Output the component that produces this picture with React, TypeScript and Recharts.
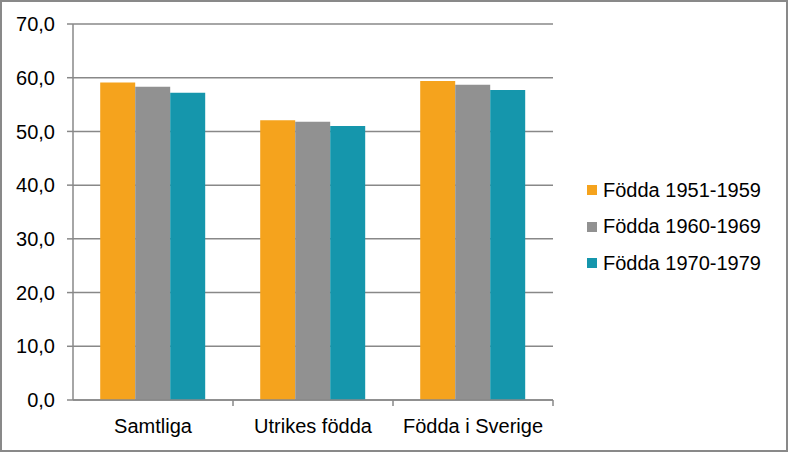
import { BarChart, Bar, XAxis, YAxis, CartesianGrid } from "recharts"

const categories = ["Samtliga", "Utrikes födda", "Födda i Sverige"]
const born1951 = [59.1, 52.1, 59.4]
const born1960 = [58.3, 51.8, 58.7]
const born1970 = [57.2, 51.0, 57.7]
const yTicks = [0, 10, 20, 30, 40, 50, 60, 70]
const seriesNames = ["Födda 1951-1959", "Födda 1960-1969", "Födda 1970-1979"]
const colors = ["#F5A31D", "#919191", "#1596AC"]

const data = categories.map((name, i) => ({
  name,
  s1: born1951[i],
  s2: born1960[i],
  s3: born1970[i],
}))

const W = 788
const H = 452
const margin = { top: 24, right: 235, left: 0, bottom: 22 }
const yAxisWidth = 73
const bandWidth = (W - margin.right - margin.left - yAxisWidth) / categories.length
const font = "'Liberation Sans', Arial, sans-serif"
const axisColor = "#888888"

function CategoryTick(props: any) {
  const { x, y, payload } = props
  const edge = x + bandWidth / 2
  return (
    <g>
      <line x1={edge} y1={y - 8} x2={edge} y2={y - 2} stroke={axisColor} strokeWidth={1.5} />
      <text x={x} y={y + 25} textAnchor="middle" fill="#000" fontSize={20} fontFamily={font}>
        {payload.value}
      </text>
    </g>
  )
}

function ChartLegend() {
  return (
    <div
      style={{
        position: "absolute",
        left: 585,
        top: 170,
        fontFamily: font,
        fontSize: 20,
        color: "#000",
      }}
    >
      {seriesNames.map((n, i) => (
        <div key={n} style={{ display: "flex", alignItems: "center", height: 36.5 }}>
          <span style={{ display: "inline-block", width: 10, height: 10, background: colors[i], marginRight: 6 }} />
          <span>{n}</span>
        </div>
      ))}
    </div>
  )
}

export default function App() {
  return (
    <div
      style={{
        position: "absolute",
        left: 0,
        top: 0,
        width: W,
        height: H,
        border: "2px solid #898989",
        boxSizing: "border-box",
        background: "#fff",
      }}
    >
      <div style={{ position: "absolute", left: -2, top: -2 }}>
        <BarChart width={W} height={H} data={data} margin={margin} barGap={0} barCategoryGap="17%">
          <CartesianGrid vertical={false} stroke={axisColor} strokeWidth={1.5} />
          <XAxis
            dataKey="name"
            height={30}
            stroke={axisColor}
            strokeWidth={1.5}
            tickLine={false}
            tick={<CategoryTick />}
            interval={0}
          />
          <YAxis
            width={yAxisWidth}
            domain={[0, 70]}
            ticks={yTicks}
            interval={0}
            stroke={axisColor}
            strokeWidth={1.5}
            tickSize={6}
            tickMargin={12}
            tickFormatter={(v: number) => v.toFixed(1).replace(".", ",")}
            tick={{ fill: "#000", fontSize: 20, fontFamily: font }}
          />
          <Bar dataKey="s1" name={seriesNames[0]} fill={colors[0]} isAnimationActive={false} />
          <Bar dataKey="s2" name={seriesNames[1]} fill={colors[1]} isAnimationActive={false} />
          <Bar dataKey="s3" name={seriesNames[2]} fill={colors[2]} isAnimationActive={false} />
        </BarChart>
      </div>
      <ChartLegend />
    </div>
  )
}
